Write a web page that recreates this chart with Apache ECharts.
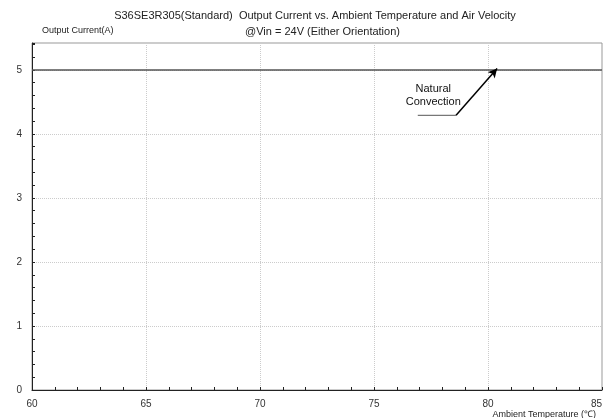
<!DOCTYPE html>
<html><head><meta charset="utf-8">
<script src="https://cdn.jsdelivr.net/npm/echarts@6/dist/echarts.min.js"></script>
<style>html,body{margin:0;padding:0;background:#fff}#c{width:605px;height:418px}</style>
</head><body><div id="c"></div>
<script>
const titleLine1 = 'S36SE3R305(Standard)  Output Current vs. Ambient Temperature and Air Velocity';
const titleLine2 = '@Vin = 24V (Either Orientation)';
const yAxisName = 'Output Current(A)';
const xAxisName = 'Ambient Temperature (℃)';
const temperatures = [60, 85];
const naturalConvection = [5, 5];
const labelLeaderStart = [76.92, 4.29];
const labelLeaderBend = [78.6, 4.29];
const arrowHead = [80.4, 5.02];
const labelAnchor = [77.6, 4.6];
const labelText = 'Natural\nConvection';

const chart = echarts.init(document.getElementById('c'));
const font = 'Liberation Sans, Arial, sans-serif';
chart.setOption({
  animation: false,
  textStyle: {fontFamily: font},
  title: [
    {text: titleLine1, left: 310, top: 5, textAlign: 'center',
     textStyle: {fontSize: 11, fontWeight: 'normal', color: '#222', fontFamily: font}},
    {text: titleLine2, left: 240, top: 21,
     textStyle: {fontSize: 11, fontWeight: 'normal', color: '#222', fontFamily: font}},
    {text: yAxisName, left: 37, top: 21,
     textStyle: {fontSize: 9, fontWeight: 'normal', color: '#222', fontFamily: font}},
    {text: xAxisName, right: 4, top: 405,
     textStyle: {fontSize: 9, fontWeight: 'normal', color: '#222', fontFamily: font}}
  ],
  grid: {left: 32, right: 3, top: 43, bottom: 28, show: true, borderColor: '#999', borderWidth: 1,
         backgroundColor: 'transparent', outerBoundsMode: 'none', containLabel: false},
  xAxis: {
    type: 'value', min: 60, max: 85, interval: 5,
    axisLine: {show: true, onZero: false, lineStyle: {color: '#222', width: 1}},
    axisTick: {show: true, inside: true, length: 3, lineStyle: {color: '#222'}},
    minorTick: {show: true, splitNumber: 5, length: 3, lineStyle: {color: '#222'}},
    axisLabel: {fontSize: 10, color: '#333', margin: 9, alignMaxLabel: 'right'},
    splitLine: {show: true, lineStyle: {color: '#ccc', type: 'dotted', width: 1}}
  },
  yAxis: {
    type: 'value', min: 0, max: 5.42, interval: 1,
    axisLine: {show: true, onZero: false, lineStyle: {color: '#222', width: 1}},
    axisTick: {show: true, inside: true, length: 3, lineStyle: {color: '#222'}},
    minorTick: {show: true, splitNumber: 5, length: 3, lineStyle: {color: '#222'}},
    axisLabel: {fontSize: 10, color: '#333', margin: 10, showMaxLabel: false},
    splitLine: {show: true, lineStyle: {color: '#ccc', type: 'dotted', width: 1}}
  },
  series: [
    {type: 'line', data: temperatures.map((t, i) => [t, naturalConvection[i]]),
     symbol: 'none', lineStyle: {color: '#555', width: 1.5}, z: 3},
    {type: 'line', data: [labelLeaderStart, labelLeaderBend], symbol: 'none',
     lineStyle: {color: '#777', width: 1.2}, z: 4,
     markLine: {silent: true, symbol: ['none', 'arrow'], symbolSize: [7, 9],
       lineStyle: {color: '#000', width: 1.5, type: 'solid'}, label: {show: false},
       data: [[{coord: labelLeaderBend}, {coord: arrowHead}]]},
     markPoint: {silent: true, symbol: 'rect', symbolSize: 1, itemStyle: {color: 'transparent'},
       label: {show: true, formatter: labelText, fontSize: 11, color: '#111', lineHeight: 13, align: 'center'},
       data: [{coord: labelAnchor}]}
    }
  ]
});
</script></body></html>
